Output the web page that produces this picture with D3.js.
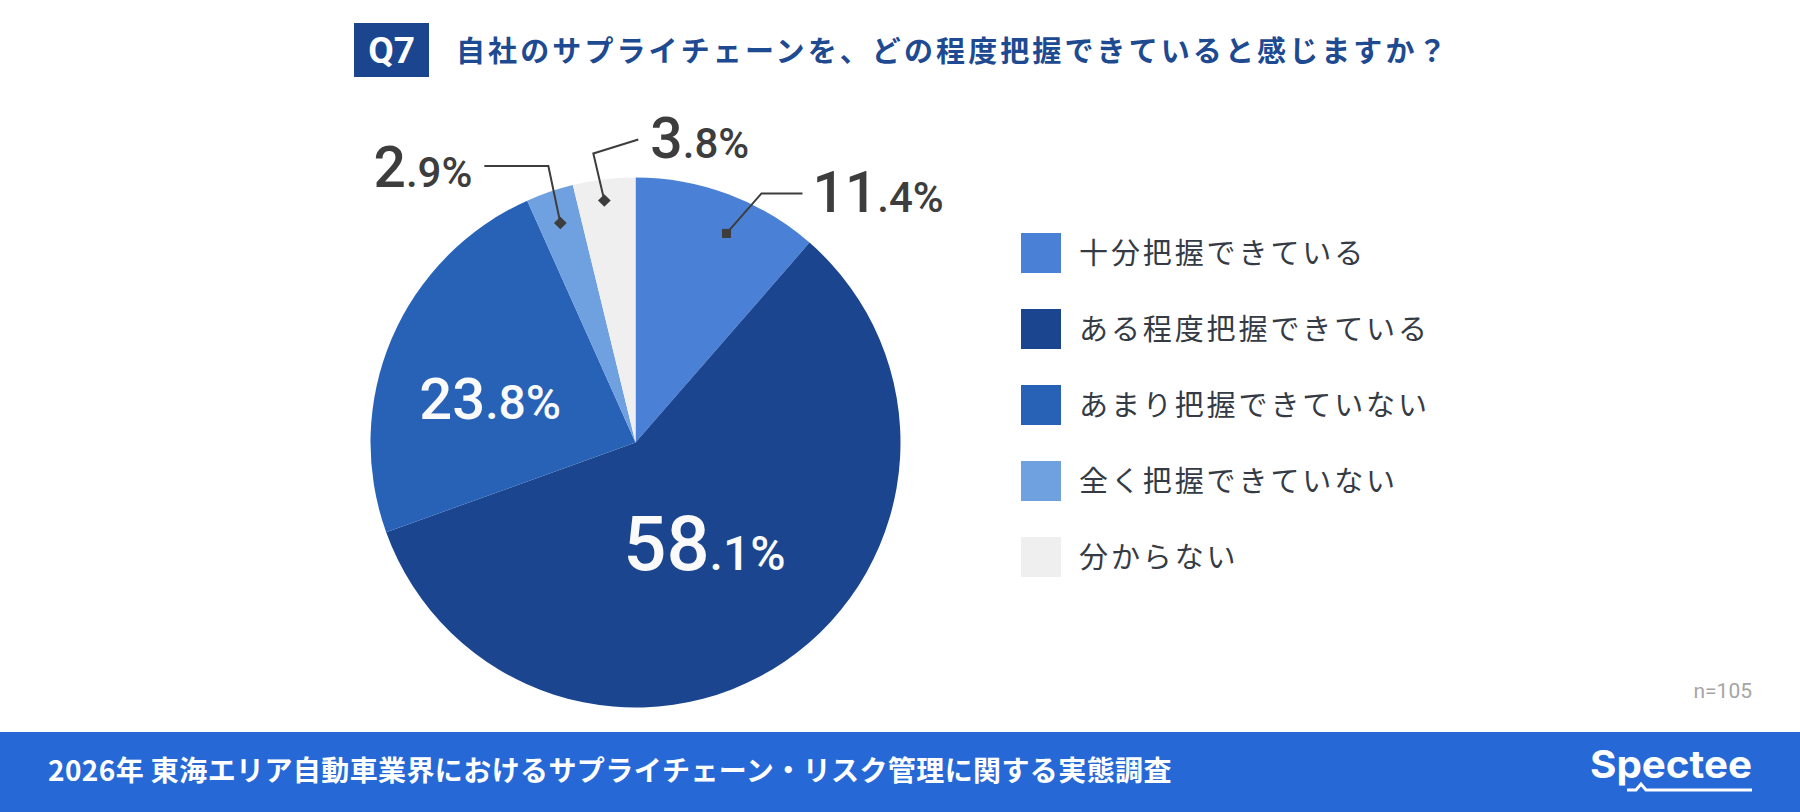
<!DOCTYPE html>
<html>
<head>
<meta charset="utf-8">
<script src="https://cdn.jsdelivr.net/npm/d3@7"></script>
<style>
  html, body { margin: 0; padding: 0; background: #fff; }
  svg { display: block; }
</style>
</head>
<body>
<div id="chart"></div>
<script>
// data
var questionNo = "Q7";
var titleText = "自社のサプライチェーンを、どの程度把握できていると感じますか？";
var categories = ["十分把握できている", "ある程度把握できている", "あまり把握できていない", "全く把握できていない", "分からない"];
var values = [11.4, 58.1, 23.8, 2.9, 3.8];
var sampleNote = "n=105";
var footerText = "2026年 東海エリア自動車業界におけるサプライチェーン・リスク管理に関する実態調査";
var brandName = "Spectee";

// styling
var colors = ["#4a80d6", "#1b468f", "#2862b7", "#6fa0e0", "#efefef"];
var numFont = "Roboto, 'Noto Sans', sans-serif";
var jpFont = "'Noto Sans CJK JP', 'Noto Sans', sans-serif";

// label placement per slice (inside / outside with leader line)
var labelLayout = [
    { type: "out", r: 228, nudge: 3, rot: 0, elbow: [35, -40], end: [76, -40], side: "right", gap: 10, base: 19 },
    { type: "in", r: 122, nudge: 0, big: 76, small: 48 },
    { type: "in", r: 152, nudge: -6, big: 58, small: 48 },
    { type: "out", r: 232, nudge: 0, rot: 45, elbow: [-12, -57], end: [-76, -57], side: "left", gap: 12, base: 21 },
    { type: "out", r: 244, nudge: -0.5, rot: 45, elbow: [-11, -47], end: [34, -61], side: "right", gap: 12, base: 18 }
];

var width = 1800, height = 812;
var cx = 635.5, cy = 442.5, radius = 265;

var svg = d3.select("#chart").append("svg").attr("width", width).attr("height", height);

// title
svg.append("rect").attr("x", 354).attr("y", 23).attr("width", 75).attr("height", 54).attr("fill", "#1b468f");
svg.append("text")
    .attr("x", 391.5).attr("y", 63)
    .attr("text-anchor", "middle")
    .attr("font-family", numFont).attr("font-weight", 700).attr("font-size", 37)
    .attr("fill", "#fff")
    .text(questionNo);
svg.append("text")
    .attr("x", 456).attr("y", 62)
    .attr("font-family", jpFont).attr("font-weight", 700).attr("font-size", 29)
    .attr("letter-spacing", 3.1)
    .attr("fill", "#1e4a91")
    .text(titleText);

// pie
var pie = d3.pie().sort(null).value(function (d) { return d; });
var arc = d3.arc().innerRadius(0).outerRadius(radius);
var arcs = pie(values);

var g = svg.append("g").attr("transform", "translate(" + cx + "," + cy + ")");

g.selectAll(".slice")
    .data(arcs)
    .enter().append("path")
    .attr("class", "slice")
    .attr("d", arc)
    .attr("fill", function (d, i) { return colors[i]; });

function polar(r, ang) {
    return [r * Math.sin(ang), -r * Math.cos(ang)];
}

function splitValue(v) {
    var s = v.toFixed(1);
    var k = s.indexOf(".");
    return [s.slice(0, k), s.slice(k) + "%"];
}

arcs.forEach(function (d, i) {
    var lay = labelLayout[i];
    var mid = (d.startAngle + d.endAngle) / 2 + lay.nudge * Math.PI / 180;
    var parts = splitValue(values[i]);

    if (lay.type === "in") {
        var p = polar(lay.r, mid);
        var t = g.append("text")
            .attr("x", p[0]).attr("y", p[1] + lay.big * 0.711 / 2)
            .attr("text-anchor", "middle")
            .attr("font-family", numFont).attr("font-weight", 500)
            .attr("fill", "#fafafa");
        t.append("tspan").attr("font-size", lay.big).text(parts[0]);
        t.append("tspan").attr("font-size", lay.small).text(parts[1]);
        return;
    }

    var dot = polar(lay.r, mid);
    var elbow = [dot[0] + lay.elbow[0], dot[1] + lay.elbow[1]];
    var end = [dot[0] + lay.end[0], dot[1] + lay.end[1]];

    g.append("path")
        .attr("d", d3.line()([dot, elbow, end]))
        .attr("fill", "none")
        .attr("stroke", "#3d3d3d")
        .attr("stroke-width", 2);

    g.append("rect")
        .attr("x", -4.5).attr("y", -4.5).attr("width", 9).attr("height", 9)
        .attr("fill", "#3d3d3d")
        .attr("transform", "translate(" + dot[0] + "," + dot[1] + ") rotate(" + lay.rot + ")");

    var tx = lay.side === "right" ? end[0] + lay.gap : end[0] - lay.gap;
    var t2 = g.append("text")
        .attr("x", tx).attr("y", end[1] + lay.base)
        .attr("text-anchor", lay.side === "right" ? "start" : "end")
        .attr("font-family", numFont).attr("font-weight", 500)
        .attr("fill", "#3d3d3d");
    t2.append("tspan").attr("font-size", 57).text(parts[0]);
    t2.append("tspan").attr("font-size", 42).text(parts[1]);
});

// legend
var legendY = d3.scalePoint().domain(categories).range([253, 557]);

var legend = svg.append("g");
var item = legend.selectAll(".item")
    .data(categories)
    .enter().append("g")
    .attr("class", "item")
    .attr("transform", function (d) { return "translate(1021," + legendY(d) + ")"; });

item.append("rect")
    .attr("x", 0).attr("y", -20).attr("width", 40).attr("height", 40)
    .attr("fill", function (d, i) { return colors[i]; });

item.append("text")
    .attr("x", 58).attr("y", 11)
    .attr("font-family", jpFont).attr("font-size", 29)
    .attr("letter-spacing", 2.9)
    .attr("fill", "#353b45")
    .text(function (d) { return d; });

// sample size
svg.append("text")
    .attr("x", 1752).attr("y", 698)
    .attr("text-anchor", "end")
    .attr("font-family", numFont).attr("font-size", 21)
    .attr("fill", "#a5a5a5")
    .text(sampleNote);

// footer band
svg.append("rect").attr("x", 0).attr("y", 732).attr("width", width).attr("height", 80).attr("fill", "#2669d6");
svg.append("text")
    .attr("x", 48).attr("y", 781)
    .attr("font-family", jpFont).attr("font-weight", 700).attr("font-size", 28)
    .attr("letter-spacing", 0.4)
    .attr("fill", "#fff")
    .text(footerText);

// brand mark
svg.append("text")
    .attr("x", 1590).attr("y", 778)
    .attr("font-family", "Inter, Roboto, sans-serif").attr("font-weight", 700).attr("font-size", 38)
    .attr("textLength", 162).attr("lengthAdjust", "spacingAndGlyphs")
    .attr("fill", "#fff")
    .text(brandName);
svg.append("path")
    .attr("d", "M1627,790 L1636,790 L1641,784 L1646,790 L1752,790")
    .attr("fill", "none")
    .attr("stroke", "#fff")
    .attr("stroke-width", 3);
</script>
</body>
</html>
